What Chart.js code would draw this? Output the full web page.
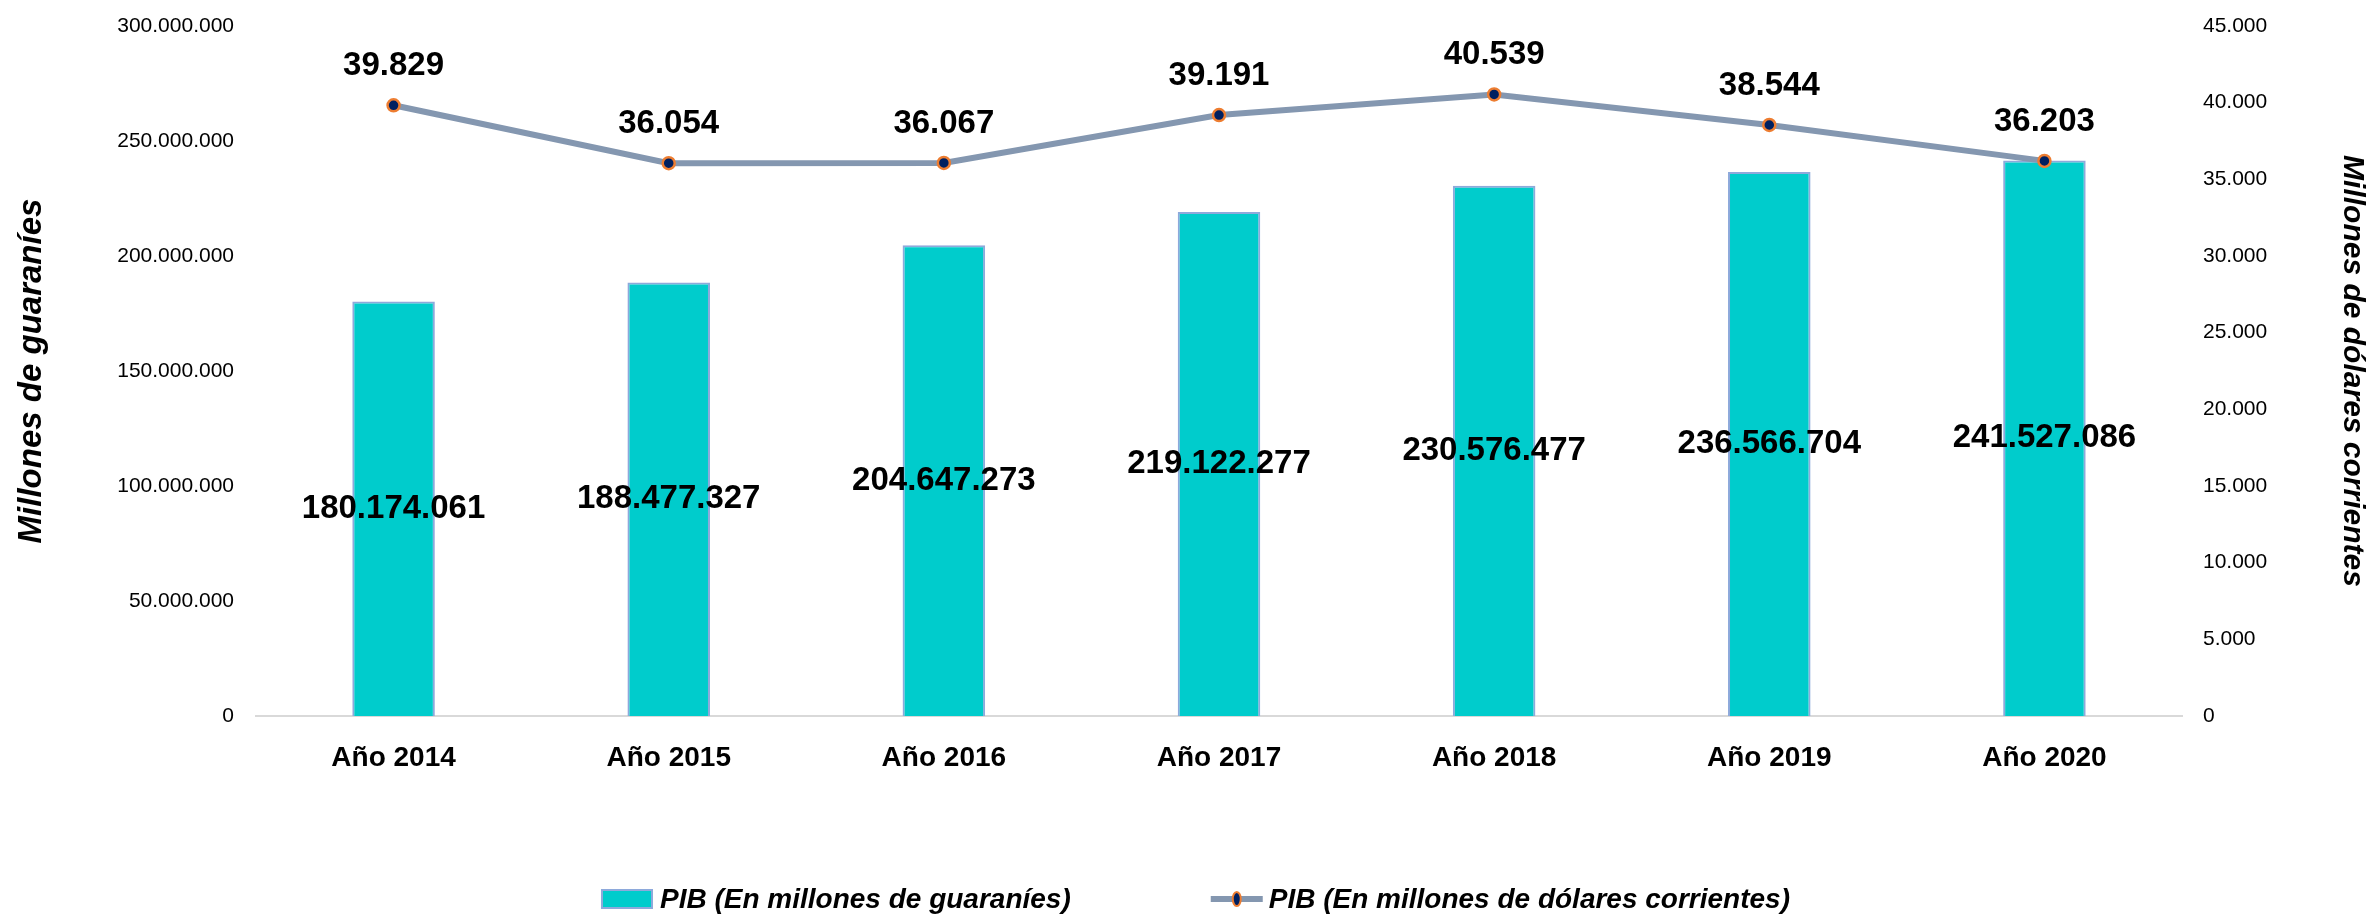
<!DOCTYPE html>
<html>
<head>
<meta charset="utf-8">
<script src="https://cdn.jsdelivr.net/npm/chart.js@4.4.1/dist/chart.umd.min.js"></script>
<style>
  body { margin: 0; background: #fff; }
  canvas { display: block; }
</style>
</head>
<body>
<canvas id="pibChart" width="2374" height="916"></canvas>
<script>
// Datos del gráfico
const categorias = ['Año 2014', 'Año 2015', 'Año 2016', 'Año 2017', 'Año 2018', 'Año 2019', 'Año 2020'];
const pibGuaranies = [180174061, 188477327, 204647273, 219122277, 230576477, 236566704, 241527086];
const pibDolares = [39829, 36054, 36067, 39191, 40539, 38544, 36203];
const etiquetasSerie = ['PIB (En millones de guaraníes)', 'PIB (En millones de dólares corrientes)'];
const tituloEjeIzq = 'Millones de guaraníes';
const tituloEjeDer = 'Millones de dólares corrientes';

const FUENTE = "'Liberation Sans', Arial, sans-serif";

function formatoMiles(v) {
    return String(Math.round(v)).replace(/\B(?=(\d{3})+(?!\d))/g, '.');
}

// Etiquetas de valores sobre barras y puntos
const etiquetasPlugin = {
    id: 'etiquetas',
    afterDatasetsDraw(chart) {
        const ctx = chart.ctx;
        ctx.save();
        ctx.fillStyle = '#000';
        ctx.font = 'bold 33px ' + FUENTE;
        ctx.textAlign = 'center';
        ctx.textBaseline = 'middle';
        chart.data.datasets.forEach((ds, i) => {
            const meta = chart.getDatasetMeta(i);
            meta.data.forEach((el, j) => {
                const texto = formatoMiles(ds.data[j]);
                if (meta.type === 'bar') {
                    ctx.fillText(texto, el.x, (el.y + el.base) / 2);
                } else {
                    ctx.fillText(texto, el.x, el.y - 39);
                }
            });
        });
        ctx.restore();
    }
};

// Leyenda inferior dibujada a mano
const leyendaPlugin = {
    id: 'leyenda',
    afterDraw(chart) {
        const ctx = chart.ctx;
        const y = 899;
        ctx.save();
        ctx.font = 'italic bold 28px ' + FUENTE;
        ctx.textBaseline = 'middle';
        ctx.textAlign = 'left';
        const w1 = ctx.measureText(etiquetasSerie[0]).width;
        const w2 = ctx.measureText(etiquetasSerie[1]).width;
        const icono = 52, sep = 6, hueco = 140;
        const total = icono + sep + w1 + hueco + icono + sep + w2;
        let x = chart.width / 2 + 9 - total / 2;

        ctx.fillStyle = '#00CCCC';
        ctx.strokeStyle = '#8EA9DB';
        ctx.lineWidth = 2;
        ctx.fillRect(x, y - 9, 50, 18);
        ctx.strokeRect(x, y - 9, 50, 18);
        ctx.fillStyle = '#000';
        ctx.fillText(etiquetasSerie[0], x + icono + sep, y + 1);

        x += icono + sep + w1 + hueco;
        ctx.strokeStyle = '#8497B0';
        ctx.lineWidth = 6;
        ctx.beginPath();
        ctx.moveTo(x, y);
        ctx.lineTo(x + icono, y);
        ctx.stroke();
        ctx.beginPath();
        ctx.ellipse(x + icono / 2, y, 4, 7, 0, 0, Math.PI * 2);
        ctx.fillStyle = '#002060';
        ctx.fill();
        ctx.strokeStyle = '#ED7D31';
        ctx.lineWidth = 2;
        ctx.stroke();
        ctx.fillStyle = '#000';
        ctx.fillText(etiquetasSerie[1], x + icono + sep, y + 1);
        ctx.restore();
    }
};

const ctx = document.getElementById('pibChart').getContext('2d');
new Chart(ctx, {
    data: {
        labels: categorias,
        datasets: [{
            type: 'line',
            label: etiquetasSerie[1],
            data: pibDolares,
            yAxisID: 'y1',
            borderColor: '#8497B0',
            borderWidth: 6,
            pointRadius: 6,
            pointBackgroundColor: '#002060',
            pointBorderColor: '#ED7D31',
            pointBorderWidth: 2.5,
            tension: 0,
            order: 1
        }, {
            type: 'bar',
            label: etiquetasSerie[0],
            data: pibGuaranies,
            yAxisID: 'y',
            backgroundColor: '#00CCCC',
            borderColor: '#8EA9DB',
            borderWidth: 2,
            barPercentage: 0.3,
            categoryPercentage: 1,
            order: 2
        }]
    },
    options: {
        responsive: false,
        animation: false,
        layout: { padding: { top: 26, bottom: 120, left: 0, right: 0 } },
        plugins: {
            legend: { display: false },
            tooltip: { enabled: false }
        },
        scales: {
            x: {
                offset: true,
                grid: { display: false, drawTicks: false },
                border: { display: true, color: '#D9D9D9', width: 2 },
                ticks: {
                    color: '#000',
                    padding: 25,
                    font: { family: FUENTE, size: 28, weight: 'bold' }
                },
                afterFit(s) { s.height = 80; }
            },
            y: {
                position: 'left',
                min: 0,
                max: 300000000,
                grid: { display: false, drawTicks: false },
                border: { display: false },
                ticks: {
                    stepSize: 50000000,
                    color: '#000',
                    padding: 22,
                    font: { family: FUENTE, size: 21 },
                    callback: v => formatoMiles(v)
                },
                title: {
                    display: true,
                    text: tituloEjeIzq,
                    color: '#000',
                    padding: { top: 12, bottom: 0 },
                    font: { family: FUENTE, size: 33, style: 'italic', weight: 'bold' }
                },
                afterFit(s) { s.width = 256; s.paddingTop = 10; s.paddingBottom = 10; }
            },
            y1: {
                position: 'right',
                min: 0,
                max: 45000,
                grid: { display: false, drawTicks: false },
                border: { display: false },
                ticks: {
                    stepSize: 5000,
                    color: '#000',
                    padding: 21,
                    font: { family: FUENTE, size: 21 },
                    callback: v => formatoMiles(v)
                },
                title: {
                    display: true,
                    text: tituloEjeDer,
                    color: '#000',
                    padding: { top: 4, bottom: 0 },
                    font: { family: FUENTE, size: 30, style: 'italic', weight: 'bold' }
                },
                afterFit(s) { s.width = 192; s.paddingTop = 10; s.paddingBottom = 10; }
            }
        }
    },
    plugins: [etiquetasPlugin, leyendaPlugin]
});
</script>
</body>
</html>
